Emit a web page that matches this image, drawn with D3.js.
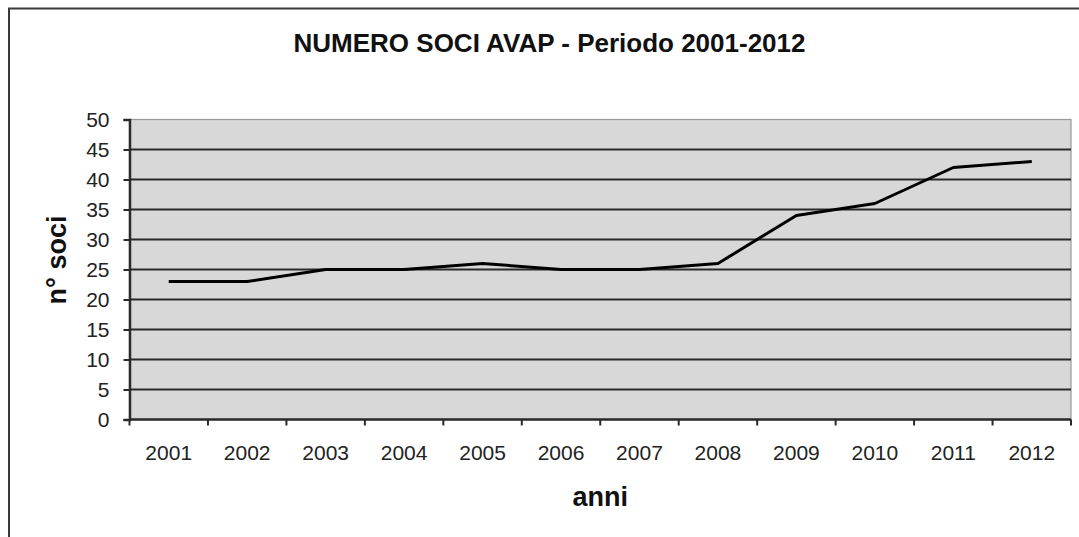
<!DOCTYPE html>
<html><head><meta charset="utf-8">
<script src="https://cdn.jsdelivr.net/npm/d3@7"></script>
<style>body{margin:0;background:#fff;}svg{display:block;font-family:"Liberation Sans",Arial,sans-serif;}</style>
</head><body>
<svg id="c" width="1079" height="537"></svg>
<script>
const years = ["2001","2002","2003","2004","2005","2006","2007","2008","2009","2010","2011","2012"];
const soci = [23,23,25,25,26,25,25,26,34,36,42,43];
const yTicks = [0,5,10,15,20,25,30,35,40,45,50];
const title = "NUMERO SOCI AVAP - Periodo 2001-2012";

const svg = d3.select("#c");
const m = {left:129.5, right:1071, top:119.5, bottom:419.5};

// outer frame
svg.append("rect").attr("x",9).attr("y",8.5).attr("width",1100).attr("height",600)
  .attr("fill","none").attr("stroke","#3a3a3a").attr("stroke-width",2);

const x = d3.scaleBand().domain(years).range([m.left,m.right]).padding(0);
const y = d3.scaleLinear().domain([0,50]).range([m.bottom,m.top]);

// plot bg
svg.append("rect").attr("x",m.left).attr("y",m.top).attr("width",m.right-m.left).attr("height",m.bottom-m.top)
  .attr("fill","#d8d8d8").attr("stroke","#9a9a9a").attr("stroke-width",1.2);

// gridlines
svg.append("g").selectAll("line").data(yTicks.filter(d=>d>0&&d<50)).join("line")
  .attr("x1",m.left).attr("x2",m.right).attr("y1",d=>y(d)).attr("y2",d=>y(d))
  .attr("stroke","#2a2a2a").attr("stroke-width",2);

// y axis
const ya = svg.append("g").attr("transform",`translate(${m.left},0)`)
  .call(d3.axisLeft(y).tickValues(yTicks).tickSize(6).tickPadding(14));
ya.select(".domain").attr("stroke","#2a2a2a").attr("stroke-width",2.5);
ya.selectAll(".tick line").attr("stroke","#2a2a2a").attr("stroke-width",2);
ya.selectAll("text").attr("font-size",21).attr("fill","#222").attr("font-family","Liberation Sans, Arial, sans-serif");

// x axis: ticks at band boundaries
const xa = svg.append("g").attr("transform",`translate(0,${m.bottom})`);
xa.append("line").attr("x1",m.left).attr("x2",m.right).attr("stroke","#2a2a2a").attr("stroke-width",2.5);
const bounds = years.map(d=>x(d)).concat([m.right]);
xa.selectAll("line.t").data(bounds).join("line").attr("class","t")
  .attr("x1",d=>d).attr("x2",d=>d).attr("y1",0).attr("y2",6).attr("stroke","#2a2a2a").attr("stroke-width",2);
xa.selectAll("text").data(years).join("text")
  .attr("x",d=>x(d)+x.bandwidth()/2).attr("y",40).attr("text-anchor","middle")
  .attr("font-size",21).attr("fill","#222").text(d=>d);

// line
const line = d3.line().x((d,i)=>x(years[i])+x.bandwidth()/2).y(d=>y(d));
svg.append("path").datum(soci).attr("d",line).attr("fill","none")
  .attr("stroke","#000").attr("stroke-width",3).attr("stroke-linejoin","round");

// title
svg.append("text").attr("x",549.5).attr("y",52).attr("text-anchor","middle")
  .attr("font-size",26).attr("font-weight","bold").attr("fill","#111").text(title);
// axis titles
svg.append("text").attr("transform",`translate(66,260) rotate(-90)`)
  .attr("text-anchor","middle").attr("font-size",27).attr("font-weight","bold").attr("fill","#111").text("n° soci");
svg.append("text").attr("x",(m.left+m.right)/2).attr("y",506).attr("text-anchor","middle")
  .attr("font-size",27).attr("font-weight","bold").attr("fill","#111").text("anni");
</script>
</body></html>
